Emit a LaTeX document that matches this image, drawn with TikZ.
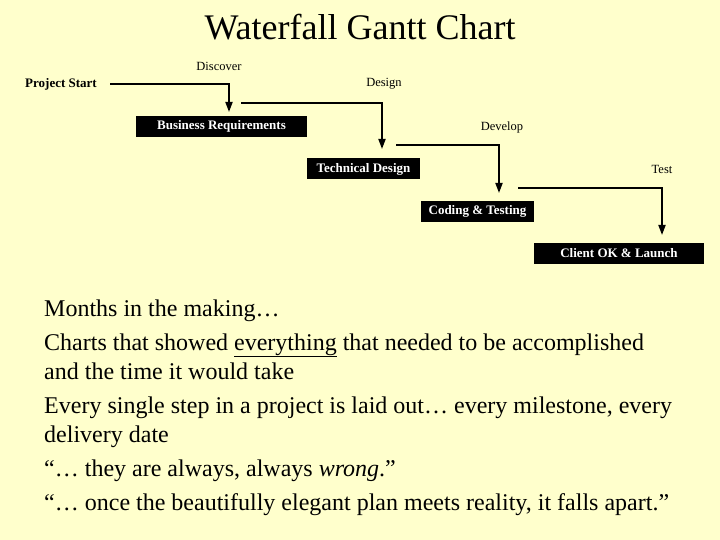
\documentclass[tikz,border=0pt]{standalone}
\usepackage{fontspec}
\setmainfont{Liberation Serif}
\usetikzlibrary{arrows.meta}
\definecolor{bgyellow}{HTML}{FFFFCC}
\newcommand{\thickul}[1]{\setbox0\hbox{#1}\leavevmode\rlap{\hbox to \wd0{\hss}}\vtop{\hbox{#1}\kern 1.5pt\hrule height 1.6pt}}
\begin{document}
\begin{tikzpicture}[x=1pt,y=-1pt,
  taskbox/.style={fill=black,text=white,font=\fontsize{13}{15}\selectfont\bfseries,minimum height=21pt,inner sep=0pt},
  phase/.style={font=\fontsize{12.5}{14}\selectfont,inner sep=0pt},
  conn/.style={line width=1.8pt,-{Triangle[length=10pt,width=7pt]}},
  body/.style={font=\fontsize{24}{28}\selectfont,anchor=base west,inner sep=0pt}]
\fill[bgyellow] (0,0) rectangle (720,540);
\useasboundingbox (0,0) rectangle (720,540);
\node[font=\fontsize{36}{40}\selectfont,anchor=base,inner sep=0pt] (title) at (360,40) {Waterfall Gantt Chart};
% Gantt
\node[font=\fontsize{13}{15}\selectfont\bfseries,anchor=base west,inner sep=0pt] (ps) at (25,88) {Project Start};
\node[taskbox,minimum width=171pt] (br) at (221.5,126.5) {Business Requirements};
\node[taskbox,minimum width=113pt] (td) at (363.5,169) {Technical Design};
\node[taskbox,minimum width=113pt] (ct) at (477.5,211.5) {Coding \& Testing};
\node[taskbox,minimum width=170pt] (cl) at (619,253.5) {Client OK \& Launch};
\node[phase] (disc) at (219,66) {Discover};
\node[phase] (des) at (384,84) {Design};
\node[phase] (dev) at (502,127) {Develop};
\node[phase] (tst) at (662,169) {Test};
\coordinate (s1) at (110,84);
\coordinate (e1) at (229,112);
\coordinate (s2) at (241,103);
\coordinate (e2) at (382,149);
\coordinate (s3) at (396,145);
\coordinate (e3) at (499,193);
\coordinate (s4) at (518,188);
\coordinate (e4) at (662,235);
\draw[conn] (s1) -| (e1);
\draw[conn] (s2) -| (e2);
\draw[conn] (s3) -| (e3);
\draw[conn] (s4) -| (e4);
% body text
\node[body] (l1) at (44,316) {Months in the making…};
\node[body] (l2) at (44,350) {Charts that showed \underline{everything} that needed to be accomplished};
\node[body] (l3) at (44,379) {and the time it would take};
\node[body] (l4) at (44,413) {Every single step in a project is laid out… every milestone, every};
\node[body] (l5) at (44,442) {delivery date};
\node[body] (l6) at (44,476) {“… they are always, always \textit{wrong}.”};
\node[body] (l7) at (44,510) {“… once the beautifully elegant plan meets reality, it falls apart.”};
\end{tikzpicture}
\end{document}
